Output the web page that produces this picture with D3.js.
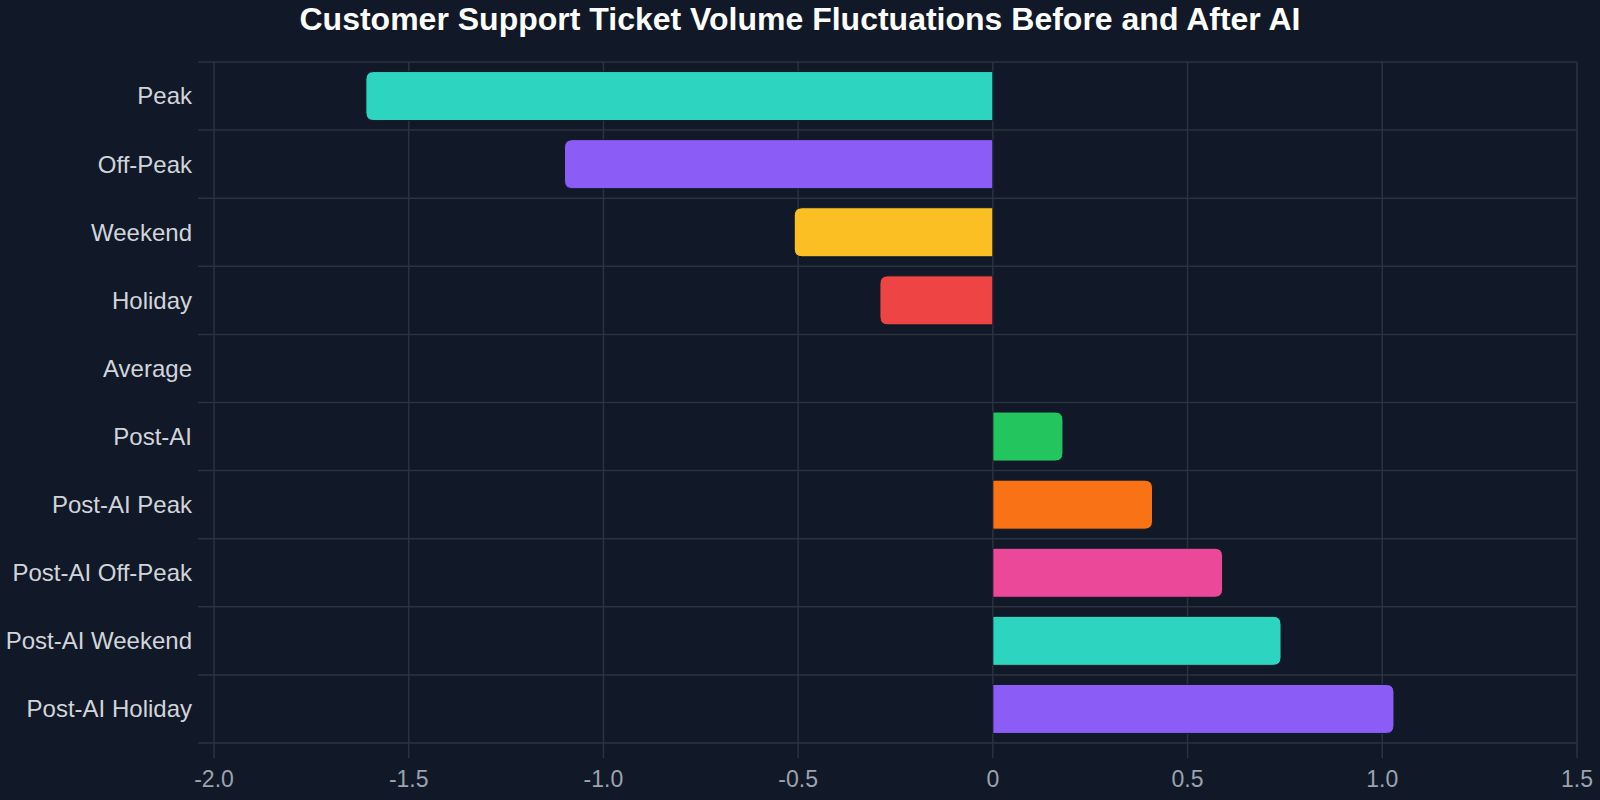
<!DOCTYPE html>
<html>
<head>
<meta charset="utf-8">
<script src="https://cdn.jsdelivr.net/npm/d3@7"></script>
<style>
  html, body { margin: 0; padding: 0; background: #111827; }
  svg { display: block; }
</style>
</head>
<body>
<script>
// chart data
var categories = ['Peak', 'Off-Peak', 'Weekend', 'Holiday', 'Average', 'Post-AI',
    'Post-AI Peak', 'Post-AI Off-Peak', 'Post-AI Weekend', 'Post-AI Holiday'];
var values = [-1.61, -1.10, -0.51, -0.29, 0, 0.18, 0.41, 0.59, 0.74, 1.03];
var barColors = ['#2dd4bf', '#8b5cf6', '#fbbf24', '#ef4444', '#6b7280', '#22c55e',
    '#f97316', '#ec4899', '#2dd4bf', '#8b5cf6'];
var xTicks = [-2.0, -1.5, -1.0, -0.5, 0, 0.5, 1.0, 1.5];
var xTickLabels = ['-2.0', '-1.5', '-1.0', '-0.5', '0', '0.5', '1.0', '1.5'];
var title = 'Customer Support Ticket Volume Fluctuations Before and After AI';

var width = 1600, height = 800;
var margin = { top: 62, left: 214, right: 23, bottom: 57 };
var plotW = width - margin.left - margin.right,
    plotH = height - margin.top - margin.bottom;

var svg = d3.select('body').append('svg')
    .attr('width', width)
    .attr('height', height)
    .style('font-family', '"Liberation Sans", Arial, sans-serif');

svg.append('rect').attr('width', width).attr('height', height).attr('fill', '#111827');

svg.append('text')
    .attr('x', 800)
    .attr('y', 30)
    .attr('text-anchor', 'middle')
    .attr('fill', '#ffffff')
    .style('font-size', '32px')
    .style('font-weight', 'bold')
    .text(title);

var g = svg.append('g')
    .attr('transform', 'translate(' + margin.left + ',' + margin.top + ')');

var x = d3.scaleLinear().domain([-2.0, 1.5]).range([0, plotW]);
var y = d3.scaleBand().domain(categories).range([0, plotH])
    .paddingInner(0.28).paddingOuter(0.14);
var step = y.step();

var gridColor = '#2b3341';

// horizontal grid lines at band boundaries
var bounds = d3.range(categories.length + 1);
g.append('g').selectAll('line')
    .data(bounds).enter().append('line')
    .attr('x1', -16).attr('x2', plotW)
    .attr('y1', function(d) { return d * step; })
    .attr('y2', function(d) { return d * step; })
    .attr('stroke', gridColor).attr('stroke-width', 1.5);

// vertical grid lines
g.append('g').selectAll('line')
    .data(xTicks).enter().append('line')
    .attr('x1', function(d) { return x(d); })
    .attr('x2', function(d) { return x(d); })
    .attr('y1', 0).attr('y2', plotH + 15)
    .attr('stroke', gridColor).attr('stroke-width', 1.5);

// x tick labels
g.append('g').selectAll('text')
    .data(xTicks).enter().append('text')
    .attr('x', function(d) { return x(d); })
    .attr('y', plotH + 44)
    .attr('text-anchor', 'middle')
    .attr('fill', '#9ca3af')
    .style('font-size', '23px')
    .text(function(d, i) { return xTickLabels[i]; });

// y labels
g.append('g').selectAll('text')
    .data(categories).enter().append('text')
    .attr('x', -22)
    .attr('y', function(d) { return y(d) + y.bandwidth() / 2; })
    .attr('dy', '0.35em')
    .attr('text-anchor', 'end')
    .attr('fill', '#d1d5db')
    .style('font-size', '24px')
    .text(function(d) { return d; });

// bar with rounded outer end only
function barPath(v, top, h) {
    var r = 8;
    var x0 = x(0), x1 = x(v);
    var len = Math.abs(x1 - x0);
    if (len < 0.5) return '';
    r = Math.min(r, len, h / 2);
    var s = v > 0 ? 1 : -1;
    var p = d3.path();
    p.moveTo(x0, top);
    p.lineTo(x1 - s * r, top);
    p.quadraticCurveTo(x1, top, x1, top + r);
    p.lineTo(x1, top + h - r);
    p.quadraticCurveTo(x1, top + h, x1 - s * r, top + h);
    p.lineTo(x0, top + h);
    p.closePath();
    return p.toString();
}

g.append('g').selectAll('path')
    .data(values).enter().append('path')
    .attr('d', function(d, i) { return barPath(d, y(categories[i]), y.bandwidth()); })
    .attr('fill', function(d, i) { return barColors[i]; })
    .attr('stroke', '#111827')
    .attr('stroke-width', 1);
</script>
</body>
</html>
